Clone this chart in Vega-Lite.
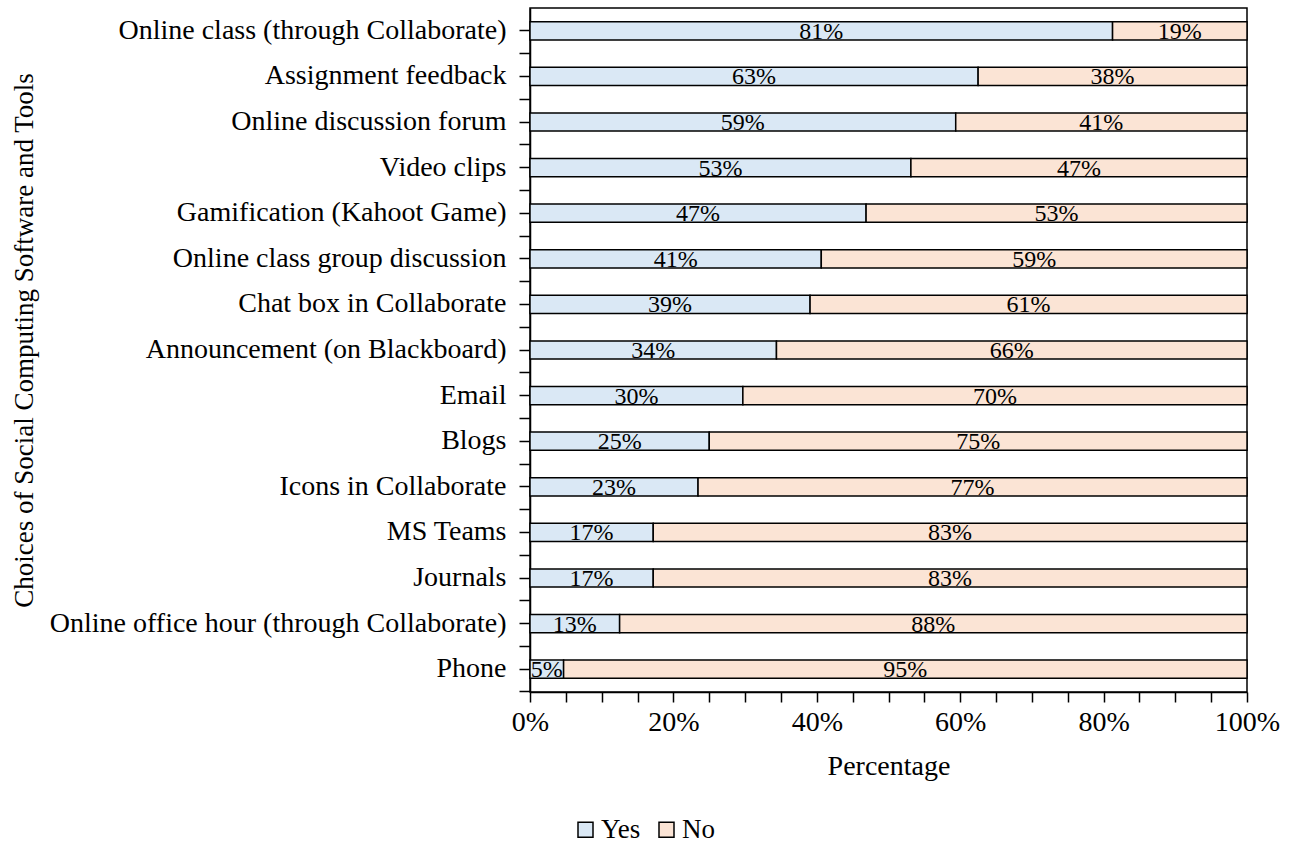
{
  "$schema": "https://vega.github.io/schema/vega-lite/v6.json",
  "autosize": "none",
  "width": 717,
  "height": 684,
  "padding": {"left": 530, "top": 8, "right": 49, "bottom": 151},
  "background": "white",
  "config": {
    "font": "Liberation Serif",
    "view": {"stroke": "black", "strokeWidth": 1.5},
    "axis": {"labelFont": "Liberation Serif", "titleFont": "Liberation Serif", "labelColor": "black", "titleColor": "black", "domainColor": "black", "tickColor": "black", "domainWidth": 1.5, "tickWidth": 1.5, "grid": false, "titleFontWeight": "normal"},
    "axisX": {"title": "Percentage", "titleFontSize": 28, "titlePadding": 16, "values": [0, 0.04, 0.08, 0.12, 0.16, 0.2, 0.24, 0.28, 0.32, 0.36, 0.4, 0.44, 0.48, 0.52, 0.56, 0.6, 0.64, 0.68, 0.72, 0.76, 0.8, 0.84, 0.88, 0.92, 0.96, 1], "format": ".0%", "labelExpr": "round(datum.value * 100) % 20 == 0 ? datum.label : ''", "labelFontSize": 28, "tickSize": 10, "labelPadding": 6, "labelFlush": false, "labelOverlap": false},
    "legend": {"labelFont": "Liberation Serif"}
  },
  "data": {"values": [
    {"tool": "Online class (through Collaborate)", "response": "Yes", "pct": 0.8125},
    {"tool": "Online class (through Collaborate)", "response": "No", "pct": 0.1875},
    {"tool": "Assignment feedback", "response": "Yes", "pct": 0.625},
    {"tool": "Assignment feedback", "response": "No", "pct": 0.375},
    {"tool": "Online discussion forum", "response": "Yes", "pct": 0.59375},
    {"tool": "Online discussion forum", "response": "No", "pct": 0.40625},
    {"tool": "Video clips", "response": "Yes", "pct": 0.53125},
    {"tool": "Video clips", "response": "No", "pct": 0.46875},
    {"tool": "Gamification (Kahoot Game)", "response": "Yes", "pct": 0.46875},
    {"tool": "Gamification (Kahoot Game)", "response": "No", "pct": 0.53125},
    {"tool": "Online class group discussion", "response": "Yes", "pct": 0.40625},
    {"tool": "Online class group discussion", "response": "No", "pct": 0.59375},
    {"tool": "Chat box in Collaborate", "response": "Yes", "pct": 0.390625},
    {"tool": "Chat box in Collaborate", "response": "No", "pct": 0.609375},
    {"tool": "Announcement (on Blackboard)", "response": "Yes", "pct": 0.34375},
    {"tool": "Announcement (on Blackboard)", "response": "No", "pct": 0.65625},
    {"tool": "Email ", "response": "Yes", "pct": 0.296875},
    {"tool": "Email ", "response": "No", "pct": 0.703125},
    {"tool": "Blogs", "response": "Yes", "pct": 0.25},
    {"tool": "Blogs", "response": "No", "pct": 0.75},
    {"tool": "Icons in Collaborate", "response": "Yes", "pct": 0.234375},
    {"tool": "Icons in Collaborate", "response": "No", "pct": 0.765625},
    {"tool": "MS Teams", "response": "Yes", "pct": 0.171875},
    {"tool": "MS Teams", "response": "No", "pct": 0.828125},
    {"tool": "Journals", "response": "Yes", "pct": 0.171875},
    {"tool": "Journals", "response": "No", "pct": 0.828125},
    {"tool": "Online office hour (through Collaborate)", "response": "Yes", "pct": 0.125},
    {"tool": "Online office hour (through Collaborate)", "response": "No", "pct": 0.875},
    {"tool": "Phone", "response": "Yes", "pct": 0.046875},
    {"tool": "Phone", "response": "No", "pct": 0.953125}
  ]},
  "transform": [
    {"stack": "pct", "groupby": ["tool"], "sort": [{"field": "response", "order": "descending"}], "as": ["x0", "x1"]},
    {"calculate": "(datum.x0 + datum.x1) / 2", "as": "xm"}
  ],
  "layer": [
    {
      "mark": {"type": "bar", "stroke": "black", "strokeWidth": 1.5},
      "encoding": {
        "y": {"field": "tool", "type": "nominal", "sort": null,
          "scale": {"paddingInner": 0.6, "paddingOuter": 0.3},
          "axis": {"orient": "left", "title": "Choices of Social Computing Software and Tools", "titleFontSize": 27, "titleX": -506, "titleY": 332, "titleAngle": -90, "titleBaseline": "middle", "titleAlign": "center",
            "labelFontSize": 28, "labelPadding": 13, "tickSize": 11, "labelLimit": 600}},
        "x": {"field": "x0", "type": "quantitative", "scale": {"domain": [0, 1], "nice": false}, "axis": {"title": "Percentage"}},
        "x2": {"field": "x1"},
        "color": {"field": "response", "type": "nominal",
          "scale": {"domain": ["Yes", "No"], "range": ["#DAE8F5", "#FBE4D5"]},
          "legend": {"title": null, "orient": "none", "legendX": 42, "legendY": 808, "direction": "horizontal", "symbolType": "square", "symbolSize": 225, "symbolStrokeColor": "black", "symbolStrokeWidth": 1.5, "labelFontSize": 27, "labelColor": "black", "labelOffset": 2, "columnPadding": 12}}
      }
    },
    {
      "mark": {"type": "text", "fontSize": 24, "font": "Liberation Serif", "color": "black", "baseline": "alphabetic", "dy": 8},
      "encoding": {
        "y": {"field": "tool", "type": "nominal", "sort": null,
          "axis": {"orient": "left", "title": null, "labels": false, "domain": false, "bandPosition": 1.75, "tickSize": 11}},
        "x": {"field": "xm", "type": "quantitative", "axis": {"title": "Percentage"}},
        "text": {"field": "pct", "type": "quantitative", "format": ".0%"}
      }
    }
  ],
  "resolve": {"axis": {"y": "independent"}}
}
